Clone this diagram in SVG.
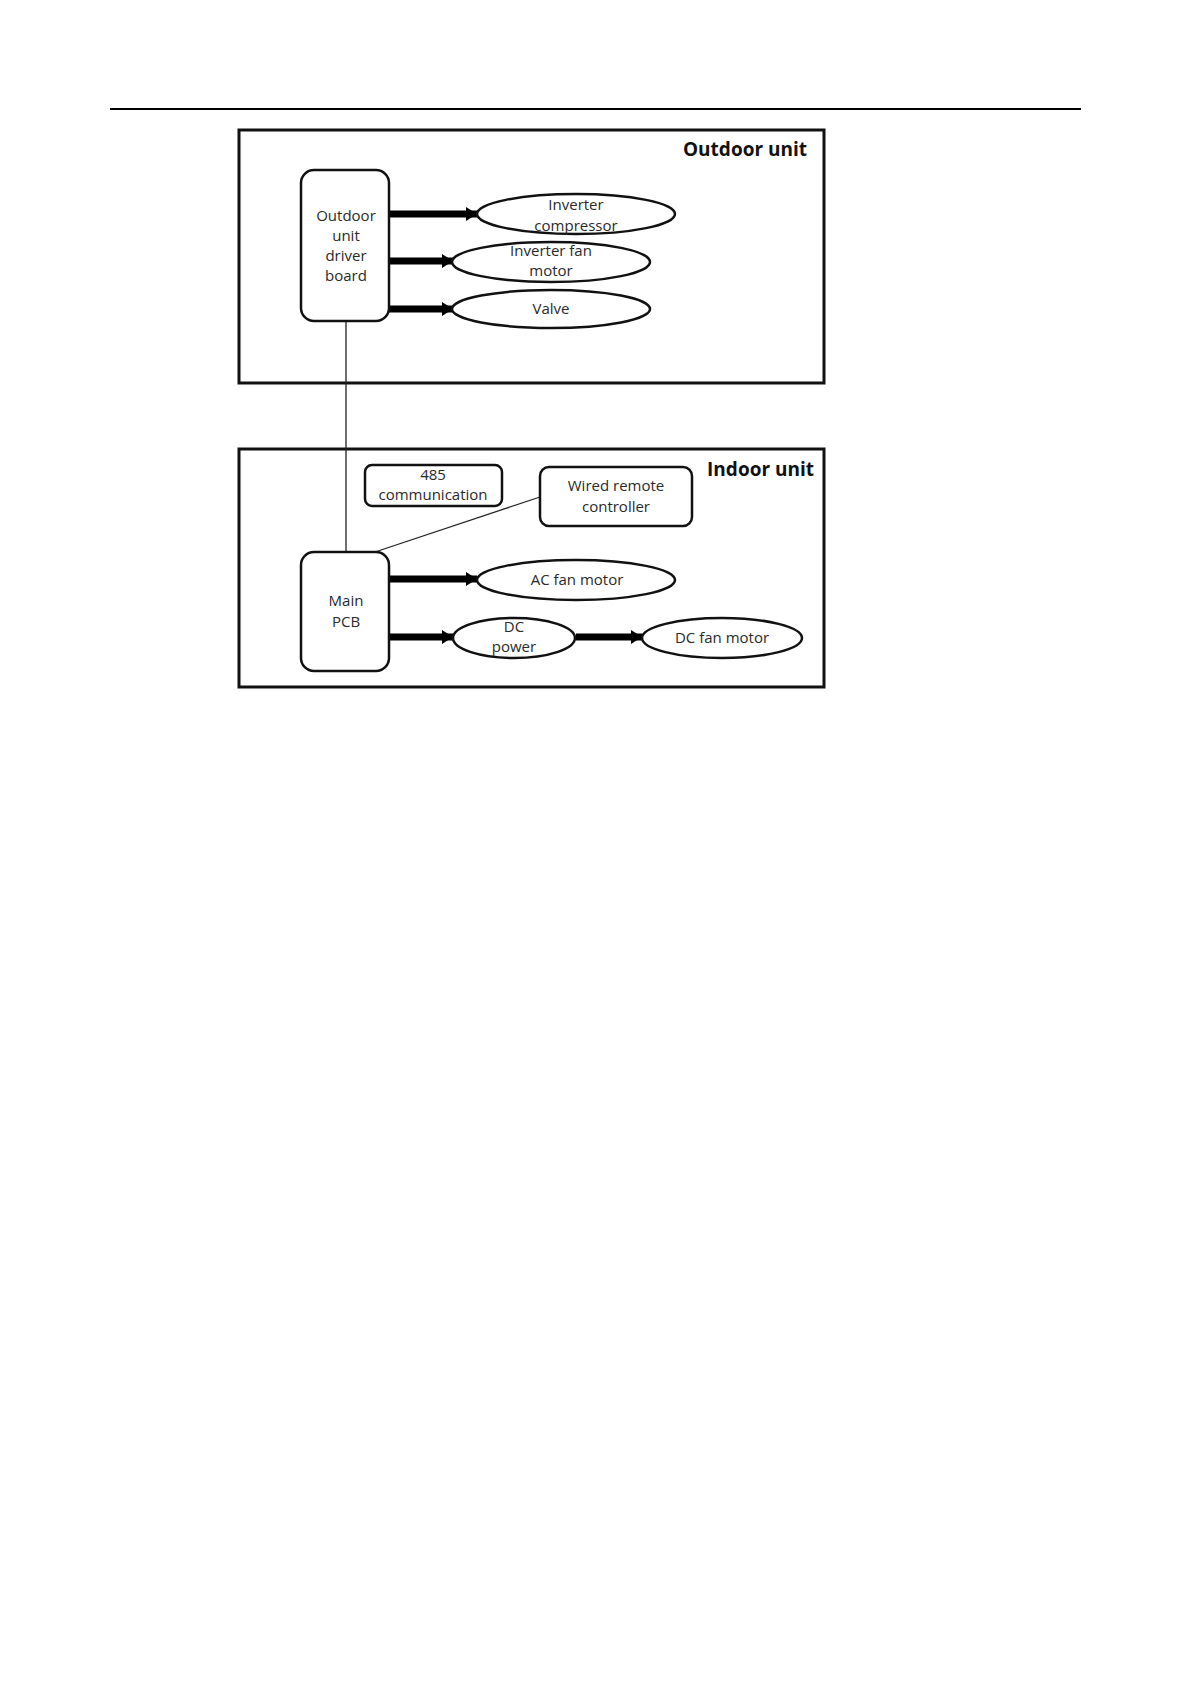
<svg xmlns="http://www.w3.org/2000/svg" width="1190" height="1684" viewBox="0 0 1190 1684">
<style>
.frame{fill:none;stroke:#111;stroke-width:3}
.box{fill:#fff;stroke:#111;stroke-width:2.5}
.ell{fill:#fff;stroke:#111;stroke-width:2.5}
.t{font-family:"Open Sans","Liberation Sans",sans-serif;font-size:15px;fill:#2a2a2a;text-anchor:middle}
.title{font-family:"Open Sans","Liberation Sans",sans-serif;font-size:19px;font-weight:bold;fill:#111;text-anchor:end}
.arr{stroke:#000;stroke-width:7;fill:none;marker-end:url(#ah)}
.thin{stroke:#222;stroke-width:1.3;fill:none}
</style>
<defs>
<marker id="ah" markerUnits="userSpaceOnUse" markerWidth="12" markerHeight="16" refX="11" refY="8" orient="auto">
<path d="M0,1 L11,8 L0,15 Z" fill="#000"/>
</marker>
</defs>
<rect width="1190" height="1684" fill="#fff"/>
<line x1="110" y1="109" x2="1081" y2="109" stroke="#000" stroke-width="2"/>

<g id="outdoor-unit">
<rect class="frame" x="239" y="130" width="585" height="253"/>
<text class="title" x="807" y="156">Outdoor unit</text>
</g>
<g id="indoor-unit">
<rect class="frame" x="239" y="449" width="585" height="238"/>
<text class="title" x="814" y="476">Indoor unit</text>
</g>

<g id="connectors">
<line class="thin" x1="346" y1="321" x2="346" y2="552"/>
<line class="thin" x1="540" y1="497" x2="372" y2="553"/>
<line class="arr" x1="389" y1="214" x2="477" y2="214"/>
<line class="arr" x1="389" y1="261" x2="453" y2="261"/>
<line class="arr" x1="389" y1="309" x2="453" y2="309"/>
<line class="arr" x1="389" y1="579" x2="477" y2="579"/>
<line class="arr" x1="389" y1="637" x2="453" y2="637"/>
<line class="arr" x1="576" y1="637" x2="642" y2="637"/>
</g>

<g id="outdoor-driver-board">
<rect class="box" x="301" y="170" width="88" height="151" rx="13"/>
<text class="t" x="346" y="221">Outdoor</text>
<text class="t" x="346" y="241">unit</text>
<text class="t" x="346" y="261">driver</text>
<text class="t" x="346" y="281">board</text>
</g>
<g id="inverter-compressor">
<ellipse class="ell" cx="576" cy="214" rx="99" ry="20"/>
<text class="t" x="576" y="210">Inverter</text>
<text class="t" x="576" y="231">compressor</text>
</g>
<g id="inverter-fan-motor">
<ellipse class="ell" cx="551" cy="262" rx="99" ry="20"/>
<text class="t" x="551" y="256">Inverter fan</text>
<text class="t" x="551" y="276">motor</text>
</g>
<g id="valve">
<ellipse class="ell" cx="551" cy="309" rx="99" ry="19"/>
<text class="t" x="551" y="314">Valve</text>
</g>

<g id="comm-485">
<rect class="box" x="365" y="465" width="137" height="41" rx="7"/>
<text class="t" x="433" y="480">485</text>
<text class="t" x="433" y="500">communication</text>
</g>
<g id="wired-remote-controller">
<rect class="box" x="540" y="467" width="152" height="59" rx="9"/>
<text class="t" x="616" y="491">Wired remote</text>
<text class="t" x="616" y="512">controller</text>
</g>
<g id="main-pcb">
<rect class="box" x="301" y="552" width="88" height="119" rx="13"/>
<text class="t" x="346" y="606">Main</text>
<text class="t" x="346" y="627">PCB</text>
</g>
<g id="ac-fan-motor">
<ellipse class="ell" cx="576" cy="580" rx="99" ry="20"/>
<text class="t" x="577" y="585">AC fan motor</text>
</g>
<g id="dc-power">
<ellipse class="ell" cx="514" cy="638" rx="61" ry="20"/>
<text class="t" x="514" y="632">DC</text>
<text class="t" x="514" y="652">power</text>
</g>
<g id="dc-fan-motor">
<ellipse class="ell" cx="722" cy="638" rx="80" ry="20"/>
<text class="t" x="722" y="643">DC fan motor</text>
</g>
</svg>
